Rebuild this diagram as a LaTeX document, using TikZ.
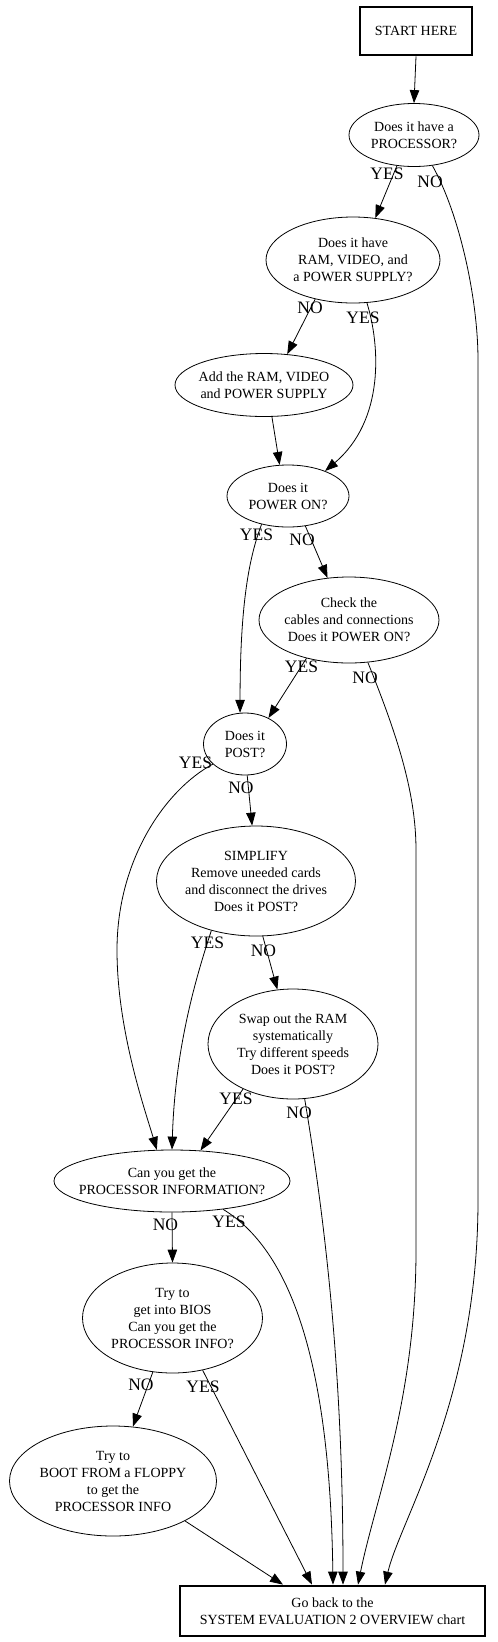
\documentclass[tikz,border=0pt]{standalone}
\usepackage{fontspec}
\setmainfont{Liberation Serif}
\usetikzlibrary{shapes.geometric,arrows.meta}
\begin{document}
\begin{tikzpicture}[x=1pt,y=-1pt,
  q/.style={draw,ellipse,inner sep=-25pt,line width=0.8pt,align=center,font=\fontsize{14}{17}\selectfont},
  tbox/.style={draw,rectangle,inner sep=0pt,line width=2.8pt,align=center,font=\fontsize{14}{17}\selectfont},
  lbl/.style={inner sep=0pt,font=\fontsize{17.5}{20}\selectfont},
  arr/.style={line width=0.8pt,-{Triangle[length=13pt,width=9.5pt]}},
]
\useasboundingbox (0,0) rectangle (498,1642);

\node[tbox,minimum width=112pt,minimum height=48pt] (start) at (416,31) {START HERE};
\node[q,minimum width=130pt,minimum height=63pt] (proc) at (414,135) {Does it have a\\PROCESSOR?};
\node[q,minimum width=174pt,minimum height=86pt] (ram) at (353,260) {Does it have\\RAM, VIDEO, and\\a POWER SUPPLY?};
\node[q,minimum width=178pt,minimum height=63pt] (add) at (264,385) {Add the RAM, VIDEO\\and POWER SUPPLY};
\node[q,minimum width=122pt,minimum height=62pt] (power) at (288,496) {Does it\\POWER ON?};
\node[q,minimum width=180pt,minimum height=86pt] (check) at (349,620) {Check the\\cables and connections\\Does it POWER ON?};
\node[q,minimum width=83pt,minimum height=62pt] (post) at (245,744) {Does it\\POST?};
\node[q,minimum width=199pt,minimum height=110pt] (simp) at (256,881) {SIMPLIFY\\Remove uneeded cards\\and disconnect the drives\\Does it POST?};
\node[q,minimum width=170pt,minimum height=110pt] (swap) at (293,1044) {Swap out the RAM\\systematically\\Try different speeds\\Does it POST?};
\node[q,minimum width=236pt,minimum height=62pt] (cpu) at (172,1181) {Can you get the\\PROCESSOR INFORMATION?};
\node[q,minimum width=180pt,minimum height=110pt] (bios) at (172.5,1318) {Try to\\get into BIOS\\Can you get the\\PROCESSOR INFO?};
\node[q,minimum width=207pt,minimum height=110pt] (floppy) at (113,1481) {Try to\\BOOT FROM a FLOPPY\\to get the\\PROCESSOR INFO};
\node[tbox,minimum width=305pt,minimum height=50pt] (back) at (332.5,1611) {Go back to the\\SYSTEM EVALUATION 2 OVERVIEW chart};

% edges
\draw[arr] (start.south) -- (proc.north);
\draw[arr] (proc.241) -- (ram.62);
\draw[arr] (proc.301) .. controls (460,215) and (478,300) .. (478,360) -- (478,1200) .. controls (478,1400) and (400,1520) .. ([xshift=52.5pt]back.north);
\draw[arr] (ram.226) -- (add.53);
\draw[arr] (ram.288) .. controls (380,345) and (385,420) .. (power.34);
\draw[arr] (add.284) -- (power.105);
\draw[arr] (power.227) .. controls (250,555) and (240,600) .. (post.99);
\draw[arr] (power.300) -- (check.117);
\draw[arr] (check.222) -- (post.48);
\draw[arr] (check.294) .. controls (395,730) and (416,790) .. (416,850) -- (416,1250) .. controls (416,1400) and (375,1500) .. ([xshift=25.5pt]back.north);
\draw[arr] (post.274) -- (simp.94);
\draw[arr] (post.212) .. controls (165,790) and (117,860) .. (117,950) .. controls (117,1030) and (145,1110) .. (cpu.116);
\draw[arr] (simp.277) -- (swap.106);
\draw[arr] (simp.228) .. controls (195,980) and (175,1050) .. (cpu.90);
\draw[arr] (swap.222) -- (cpu.47);
\draw[arr] (swap.282) .. controls (330,1250) and (343,1400) .. ([xshift=10.5pt]back.north);
\draw[arr] (cpu.270) -- (bios.90);
\draw[arr] (cpu.331) .. controls (290,1250) and (330,1360) .. ([xshift=0.5pt]back.north);
\draw[arr] (bios.250) -- (floppy.70);
\draw[arr] (bios.300) -- ([xshift=-20.5pt]back.north);
\draw[arr] (floppy.331) -- ([xshift=-49.5pt]back.north);

% labels
\node[lbl] (l1) at (387,174) {YES};
\node[lbl] (l2) at (430,182) {NO};
\node[lbl] (l3) at (310,308) {NO};
\node[lbl] (l4) at (363,318) {YES};
\node[lbl] (l5) at (256.5,535) {YES};
\node[lbl] (l6) at (302,540) {NO};
\node[lbl] (l7) at (301.5,667) {YES};
\node[lbl] (l8) at (365,678) {NO};
\node[lbl] (l9) at (195.5,763) {YES};
\node[lbl] (l10) at (241,788) {NO};
\node[lbl] (l11) at (207.5,943) {YES};
\node[lbl] (l12) at (263.5,951) {NO};
\node[lbl] (l13) at (236,1099) {YES};
\node[lbl] (l14) at (299,1113) {NO};
\node[lbl] (l15) at (165.5,1225) {NO};
\node[lbl] (l16) at (229,1222) {YES};
\node[lbl] (l17) at (141,1385) {NO};
\node[lbl] (l18) at (203,1387) {YES};
\end{tikzpicture}
\end{document}
